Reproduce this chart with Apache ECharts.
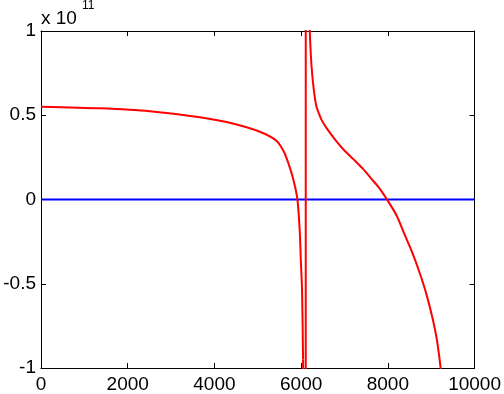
<!DOCTYPE html>
<html>
<head>
<meta charset="utf-8">
<script src="https://cdn.jsdelivr.net/npm/echarts@6/dist/echarts.min.js"></script>
<style>
html,body{margin:0;padding:0;background:#fff;}
#c{width:504px;height:394px;}
</style>
</head>
<body>
<div id="c"></div>
<script>
// values in units of 1e11
const leftX = [0, 1359, 2512, 3664, 4424, 5046, 5430, 5600, 5699, 5814, 5914, 5968, 5991, 6021, 6044];
const leftY = [0.551, 0.541, 0.524, 0.488, 0.451, 0.402, 0.349, 0.285, 0.22, 0.124, 0.0, -0.19, -0.35, -0.54, -0.95];
const poleX = [6044, 6060, 6100, 6112, 6185, 6198];
const poleY = [-0.95, -1.5, -40, 40, 1.2, 1.0];
const rightX = [6198, 6237, 6290, 6352, 6410, 6467, 6583, 6774, 6966, 7196, 7427, 7619, 7811, 7980, 8196, 8387, 8579, 8733, 8887, 9040, 9132, 9217, 9300];
const rightY = [1.0, 0.80, 0.655, 0.552, 0.51, 0.474, 0.425, 0.359, 0.30, 0.241, 0.182, 0.124, 0.065, 0.0, -0.092, -0.208, -0.325, -0.435, -0.56, -0.715, -0.835, -1.0, -1.2];
const blueX = [0, 10000];
const blueY = [0, 0];
const xTicks = [0, 2000, 4000, 6000, 8000, 10000];
const yTicks = [-1, -0.5, 0, 0.5, 1];
const multiplierBase = 'x 10';
const multiplierExp = '11';

const FONT = "'Liberation Sans', Arial, Helvetica, sans-serif";
const chart = echarts.init(document.getElementById('c'), null, {renderer: 'canvas'});
const zip = (xs, ys) => xs.map((x, i) => [x, ys[i]]);
const axisCommon = {
  type: 'value',
  axisLine: {show: true, onZero: false, lineStyle: {color: '#000', width: 1}},
  axisTick: {show: true, inside: true, length: 5, lineStyle: {color: '#000', width: 1}},
  splitLine: {show: false}
};
const red = {color: '#ff0000', width: 2};
chart.setOption({
  animation: false,
  backgroundColor: '#fff',
  grid: {left: 41, right: 29, top: 31, bottom: 23, containLabel: false},
  xAxis: [
    Object.assign({}, axisCommon, {
      position: 'bottom', min: xTicks[0], max: xTicks[xTicks.length - 1], interval: 2000,
      axisLabel: {show: true, color: '#000', fontSize: 19, fontFamily: FONT, margin: 7, formatter: v => String(v)}
    }),
    Object.assign({}, axisCommon, {
      position: 'top', min: xTicks[0], max: xTicks[xTicks.length - 1], interval: 2000,
      axisLabel: {show: false}
    })
  ],
  yAxis: [
    Object.assign({}, axisCommon, {
      position: 'left', min: yTicks[0], max: yTicks[yTicks.length - 1], interval: 0.5,
      axisLabel: {show: true, color: '#000', fontSize: 19, fontFamily: FONT, margin: 5, formatter: v => String(v)}
    }),
    Object.assign({}, axisCommon, {
      position: 'right', min: yTicks[0], max: yTicks[yTicks.length - 1], interval: 0.5,
      axisLabel: {show: false}
    })
  ],
  graphic: [
    {type: 'text', left: 41, top: 9, style: {text: multiplierBase, fontSize: 19, fontFamily: FONT, fill: '#000'}},
    {type: 'text', left: 82, top: 0, style: {text: multiplierExp, fontSize: 12, fontFamily: FONT, fill: '#000'}}
  ],
  series: [
    {type: 'line', data: zip(blueX, blueY), showSymbol: false, symbol: 'none', clip: true,
     lineStyle: {color: '#0000ff', width: 2}, z: 2},
    {type: 'line', data: zip(leftX, leftY), showSymbol: false, symbol: 'none', clip: true,
     smooth: 0.25, lineStyle: red, z: 3},
    {type: 'line', data: zip(poleX, poleY), showSymbol: false, symbol: 'none', clip: true,
     lineStyle: red, z: 3},
    {type: 'line', data: zip(rightX, rightY), showSymbol: false, symbol: 'none', clip: true,
     smooth: 0.25, lineStyle: red, z: 3}
  ]
});
</script>
</body>
</html>
